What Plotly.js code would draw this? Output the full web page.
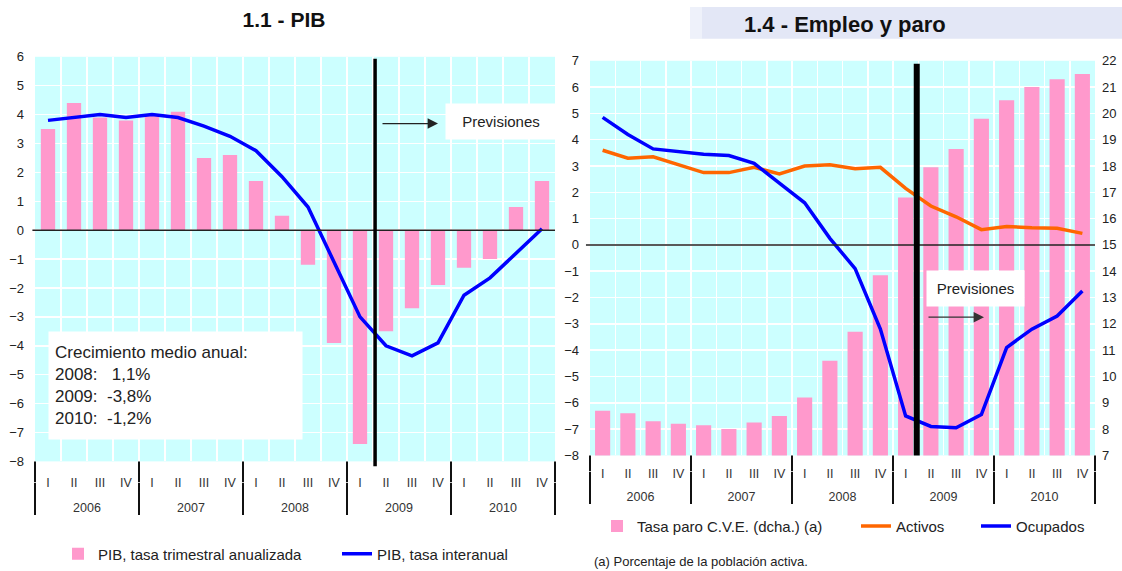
<!DOCTYPE html>
<html>
<head>
<meta charset="utf-8">
<script src="https://cdn.plot.ly/plotly-3.0.1.min.js"></script>
<style>html,body{margin:0;padding:0;background:#fff;}#chart{width:1122px;height:571px;}</style>
</head>
<body>
<div id="chart"></div>
<script>
// ---- data ----
const years = ['2006', '2007', '2008', '2009', '2010'];
const quarters = ['I', 'II', 'III', 'IV'];

// 1.1 - PIB
const pibTrimestral = [3.5, 4.4, 3.9, 3.8, 4.0, 4.1, 2.5, 2.6, 1.7, 0.5, -1.2, -3.9, -7.4, -3.5, -2.7, -1.9, -1.3, -1.0, 0.8, 1.7];
const pibInteranual = [3.8, 3.9, 4.0, 3.9, 4.0, 3.9, 3.6, 3.25, 2.75, 1.85, 0.8, -1.1, -3.0, -4.0, -4.35, -3.9, -2.25, -1.65, -0.8, 0.05];

// 1.4 - Empleo y paro
const tasaParo = [8.7, 8.6, 8.3, 8.2, 8.15, 8.0, 8.25, 8.5, 9.2, 10.6, 11.7, 13.85, 16.8, 17.95, 18.65, 19.8, 20.5, 21.0, 21.3, 21.5];
const activos = [3.6, 3.3, 3.35, 3.05, 2.75, 2.75, 2.95, 2.7, 3.0, 3.05, 2.9, 2.95, 2.15, 1.48, 1.07, 0.58, 0.7, 0.65, 0.63, 0.44];
const ocupados = [4.85, 4.2, 3.65, 3.55, 3.45, 3.4, 3.1, 2.35, 1.6, 0.25, -0.9, -3.2, -6.5, -6.9, -6.95, -6.45, -3.9, -3.2, -2.7, -1.75];

const crecimientoYears = ['2008', '2009', '2010'];
const crecimientoValues = ['1,1%', '-3,8%', '-1,2%'];

// ---- build multicategory x ----
const xYear = [], xQuarter = [];
years.forEach(y => quarters.forEach(q => { xYear.push(y); xQuarter.push(q); }));
const xCat = [xYear, xQuarter];
const nQ = quarters.length, nCat = xQuarter.length;
// year group boundaries as fractions of the x domain (for divider extensions)
const yearBoundFrac = years.map((y, i) => (i * nQ) / nCat).concat([1]);

const W = 1122, H = 571;
const px = v => v / W;
const py = v => 1 - v / H;

const PINK = '#ff99cc', BLUE = '#0000ff', ORANGE = '#ff6600', CYAN = '#ccffff';

const traces = [
  {type: 'bar', name: 'PIB, tasa trimestral anualizada', x: xCat, y: pibTrimestral, xaxis: 'x', yaxis: 'y',
   marker: {color: PINK}, width: 0.55, legend: 'legend'},
  {type: 'scatter', mode: 'lines', name: 'PIB, tasa interanual', x: xCat, y: pibInteranual, xaxis: 'x', yaxis: 'y',
   line: {color: BLUE, width: 3.5}, legend: 'legend2'},
  {type: 'bar', name: 'Tasa paro C.V.E. (dcha.) (a)', x: xCat, y: tasaParo, xaxis: 'x2', yaxis: 'y2',
   marker: {color: PINK}, width: 0.6, legend: 'legend3'},
  {type: 'scatter', mode: 'lines', name: 'Activos', x: xCat, y: activos, xaxis: 'x2', yaxis: 'y3',
   line: {color: ORANGE, width: 3.5}, legend: 'legend4'},
  {type: 'scatter', mode: 'lines', name: 'Ocupados', x: xCat, y: ocupados, xaxis: 'x2', yaxis: 'y3',
   line: {color: BLUE, width: 3.5}, legend: 'legend5'}
];

const xCommon = {
  type: 'multicategory', tickson: 'boundaries', showgrid: true, gridcolor: '#ffffff', gridwidth: 1.5,
  showdividers: true, dividercolor: '#111111', dividerwidth: 2, ticks: '',
  showline: false, zeroline: false, anchor: 'free',
  tickfont: {size: 12.5, color: '#333'}, range: [-0.5, nCat - 0.5], fixedrange: true
};
const yCommon = {
  dtick: 1, showgrid: true, gridcolor: '#ffffff', gridwidth: 1.5, zeroline: false, showline: false,
  ticks: '', tickfont: {size: 13, color: '#222'}, fixedrange: true
};

const legendCommon = {orientation: 'h', yanchor: 'middle', xanchor: 'left', font: {size: 15, color: '#222'},
  bgcolor: 'rgba(0,0,0,0)', borderwidth: 0};

let crecText = 'Crecimiento medio anual:';
crecimientoYears.forEach((y, i) => {
  const v = crecimientoValues[i];
  const pad = v.startsWith('-') ? '\u00a0\u00a0' : '\u00a0\u00a0\u00a0';
  crecText += '<br>' + y + ':' + pad + v;
});

// plot-area geometry (pixels)
const L = {x0: 35, x1: 555, top: 57, bottom: 463, axisY: 484};
const R = {x0: 590, x1: 1095, top: 61, bottom: 457, axisY: 473};

const dividerExt = [];
yearBoundFrac.forEach(f => {
  dividerExt.push({type: 'line', xref: 'x domain', yref: 'paper', x0: f, x1: f, y0: py(L.axisY), y1: py(L.bottom), line: {color: '#111', width: 2}});
  dividerExt.push({type: 'line', xref: 'x2 domain', yref: 'paper', x0: f, x1: f, y0: py(R.axisY), y1: py(R.bottom), line: {color: '#111', width: 2}});
});

const layout = {
  width: W, height: H,
  margin: {l: 0, r: 0, t: 0, b: 0},
  paper_bgcolor: '#ffffff', plot_bgcolor: CYAN,
  font: {family: 'Liberation Sans, Arial, sans-serif', color: '#222'},
  title: {text: '<b>1.1 - PIB</b>', x: px(284), y: py(20), xanchor: 'center', yanchor: 'middle',
          xref: 'paper', yref: 'paper', font: {size: 21, color: '#111'}},
  xaxis: Object.assign({}, xCommon, {domain: [px(L.x0), px(L.x1)], position: py(L.axisY), ticklabelstandoff: -9}),
  yaxis: Object.assign({}, yCommon, {domain: [py(L.bottom), py(L.top)], range: [-8, 6], anchor: 'x', ticklabelstandoff: 10}),
  xaxis2: Object.assign({}, xCommon, {domain: [px(R.x0), px(R.x1)], position: py(R.axisY), ticklabelstandoff: -7}),
  yaxis2: Object.assign({}, yCommon, {domain: [py(R.bottom), py(R.top)], range: [7, 22], anchor: 'x2', side: 'right', ticklabelstandoff: 6}),
  yaxis3: Object.assign({}, yCommon, {range: [-8, 7], anchor: 'x2', side: 'left', overlaying: 'y2', showgrid: false, ticklabelstandoff: 10}),
  showlegend: true,
  legend: Object.assign({}, legendCommon, {x: px(58), y: py(556)}),
  legend2: Object.assign({}, legendCommon, {x: px(337), y: py(556)}),
  legend3: Object.assign({}, legendCommon, {x: px(597), y: py(528)}),
  legend4: Object.assign({}, legendCommon, {x: px(856), y: py(528)}),
  legend5: Object.assign({}, legendCommon, {x: px(976), y: py(528)}),
  shapes: [
    // title band (right)
    {type: 'rect', xref: 'paper', yref: 'paper', x0: px(690), x1: px(702), y0: py(39), y1: py(7), fillcolor: '#eef1fa', line: {width: 0}, layer: 'below'},
    {type: 'rect', xref: 'paper', yref: 'paper', x0: px(702), x1: 1, y0: py(39), y1: py(7), fillcolor: '#e3e7f6', line: {width: 0}, layer: 'below'},
    // zero lines
    {type: 'line', xref: 'x domain', yref: 'y', x0: -0.005, x1: 1, y0: 0, y1: 0, line: {color: '#222', width: 1.5}},
    {type: 'line', xref: 'x2 domain', yref: 'y3', x0: -0.008, x1: 1, y0: 0, y1: 0, line: {color: '#222', width: 1.5}},
    // forecast separators
    {type: 'line', xref: 'x domain', yref: 'paper', x0: 0.654, x1: 0.654, y0: py(468), y1: py(59), line: {color: '#000', width: 3.5}},
    {type: 'line', xref: 'x2 domain', yref: 'paper', x0: 0.647, x1: 0.647, y0: py(457), y1: py(64), line: {color: '#000', width: 6}}
  ].concat(dividerExt),
  annotations: [
    {text: '<b>1.4 - Empleo y paro</b>', xref: 'paper', yref: 'paper', x: px(845), y: py(24.5), xanchor: 'center', yanchor: 'middle',
     showarrow: false, font: {size: 22, color: '#111'}},
    {text: crecText, xref: 'paper', yref: 'paper', x: px(48), y: py(332), xanchor: 'left', yanchor: 'top',
     width: 241, height: 95, borderpad: 6, align: 'left', valign: 'middle', bgcolor: '#ffffff', showarrow: false,
     font: {size: 17, color: '#222'}},
    {text: 'Previsiones', xref: 'paper', yref: 'paper', x: px(500.5), y: py(121.5), xanchor: 'center', yanchor: 'middle',
     width: 110, height: 35, borderpad: 0, bgcolor: '#ffffff', showarrow: false, font: {size: 15, color: '#222'}},
    {text: '', xref: 'paper', yref: 'paper', x: px(438), y: py(124), showarrow: true, ax: -57, ay: 0,
     arrowhead: 2, arrowsize: 1.6, arrowwidth: 1.3, arrowcolor: '#222', standoff: 0},
    {text: 'Previsiones', xref: 'paper', yref: 'paper', x: px(975), y: py(289.2), xanchor: 'center', yanchor: 'middle',
     width: 97, height: 35, borderpad: 0, bgcolor: '#ffffff', showarrow: false, font: {size: 15, color: '#222'}},
    {text: '', xref: 'paper', yref: 'paper', x: px(984), y: py(318.3), showarrow: true, ax: -57, ay: 0,
     arrowhead: 2, arrowsize: 1.6, arrowwidth: 1.3, arrowcolor: '#333', standoff: 0},
    {text: '(a) Porcentaje de la población activa.', xref: 'paper', yref: 'paper', x: px(592), y: py(563),
     xanchor: 'left', yanchor: 'middle', showarrow: false, font: {size: 13, color: '#222'}}
  ]
};

Plotly.newPlot('chart', traces, layout, {staticPlot: true, displayModeBar: false});
</script>
</body>
</html>
